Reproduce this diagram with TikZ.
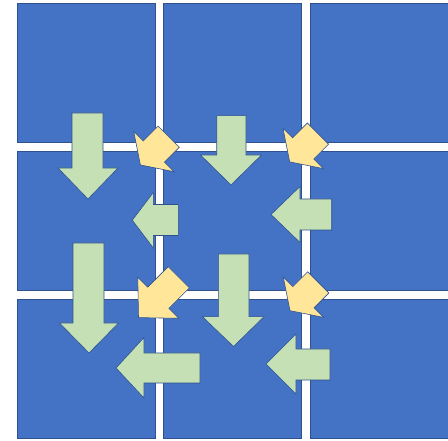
\documentclass[tikz,border=0pt]{standalone}
\usepackage{tikz}
\definecolor{cellblue}{HTML}{4472C4}
\definecolor{edgeblue}{HTML}{2F528F}
\definecolor{mintgreen}{HTML}{C5E0B4}
\definecolor{paleyellow}{HTML}{FFE699}
\tikzset{
  cell/.style={fill=cellblue, draw=edgeblue, line width=0.7pt},
  garrow/.style={fill=mintgreen, draw=edgeblue, line width=0.6pt, line join=miter},
  yarrow/.style={fill=paleyellow, draw=edgeblue, line width=0.6pt, line join=miter}
}
\begin{document}
\begin{tikzpicture}[x=1pt,y=-1pt]
\useasboundingbox (0,0) rectangle (448,441);
\fill[white] (0,0) rectangle (448,441);

% 3x3 grid of tiles
\foreach \xa/\xb in {17/155, 163/301.5, 310/449}{
  \foreach \ya/\yb in {3/142.5, 151/290.5, 299/438}{
    \draw[cell] (\xa,\ya) rectangle (\xb,\yb);
  }
}

% downward block arrows
\draw[garrow] (72,113)--(103,113)--(103,168)--(118,168)--(88,199)--(58,168)--(72,168)--cycle;
\draw[garrow] (216.7,115.7)--(246,115.7)--(246,155)--(261.5,155)--(231,185)--(200.5,155)--(216.7,155)--cycle;
\draw[garrow] (73,243)--(104,243)--(104,323)--(118.5,323)--(89,353)--(59.5,323)--(73,323)--cycle;
\draw[garrow] (218.3,254)--(249,254)--(249,316.7)--(264,316.7)--(233.5,346.5)--(202.5,316.7)--(218.3,316.7)--cycle;

% leftward block arrows
\draw[garrow] (178.3,204.5)--(178.3,235.5)--(153.3,235.5)--(153.3,248)--(132.3,220.2)--(153.3,192.5)--(153.3,204.5)--cycle;
\draw[garrow] (331.7,199)--(331.7,230)--(300,230)--(300,242.5)--(271,214.5)--(300,186.5)--(300,199)--cycle;
\draw[garrow] (200,353)--(200,383)--(144,383)--(144,398)--(116,368)--(144,337.5)--(144,353)--cycle;
\draw[garrow] (330,349)--(330,380)--(296,380)--(296,394)--(266,364)--(296,334)--(296,349)--cycle;

% diagonal arrows at the tile corners (short ones)
\foreach \tx/\ty in {168.7/136.7, 318/133.6, 318.3/282.4}{
  \begin{scope}[shift={(\tx,\ty)}, rotate=225]
    \draw[yarrow] (0,-15)--(21,-15)--(21,-28.5)--(40,0)--(21,28.5)--(21,15)--(0,15)--cycle;
  \end{scope}
}
% diagonal arrow at the lower-left corner (long one)
\begin{scope}[shift={(178.8,277.3)}, rotate=225]
  \draw[yarrow] (0,-15)--(29,-15)--(29,-29)--(57,0)--(29,29)--(29,15)--(0,15)--cycle;
\end{scope}
\end{tikzpicture}
\end{document}
